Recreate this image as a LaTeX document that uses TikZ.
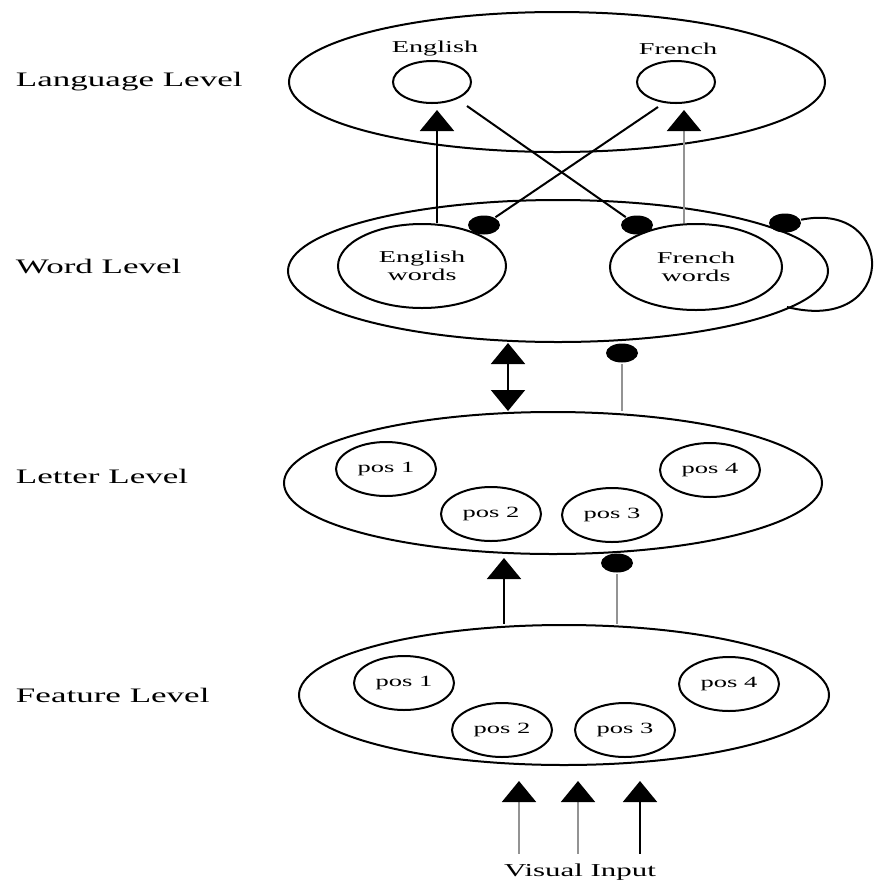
\documentclass[tikz,border=0pt]{standalone}
\usepackage{fontspec}
\setmainfont{Liberation Serif}[FakeStretch=1.7]
\usetikzlibrary{shapes.geometric,arrows.meta}

\begin{document}
\begin{tikzpicture}[x=0.5pt, y=-0.5pt, line width=1pt,
  level/.style={draw, ellipse, inner sep=0pt},
  posbox/.style={draw, ellipse, inner sep=0pt, minimum width=50pt, minimum height=27pt,
    font=\fontsize{7.8}{9}\selectfont},
  dot/.style={fill, ellipse, inner sep=0pt, minimum width=16pt, minimum height=9.5pt},
  levelname/.style={anchor=base west, inner sep=0pt, font=\fontsize{10.3}{12}\selectfont},
  small/.style={inner sep=0pt, font=\fontsize{8.3}{9}\selectfont, align=center},
  excite/.style={-{Triangle[width=17pt, length=10.5pt, color=black]}},
  both/.style={{Triangle[width=17pt, length=10.5pt]}-{Triangle[width=17pt, length=10.5pt]}},
  faint/.style={draw=gray!85}]

  \useasboundingbox (0,0) rectangle (874,885);

  % names of the levels
  \node[levelname] (langname) at (15,86) {Language Level};
  \node[levelname] (wordname) at (15,273) {Word Level};
  \node[levelname] (lettername) at (15,483) {Letter Level};
  \node[levelname] (featname) at (15,702) {Feature Level};

  % language level
  \node[level, minimum width=268pt, minimum height=70pt] (Lang) at (557,82) {};
  \node[level, minimum width=39pt, minimum height=21pt] (Eng) at (432,82) {};
  \node[level, minimum width=39pt, minimum height=21pt] (Fre) at (676,82) {};
  \node[small] (engname) at (435,49) {English};
  \node[small] (frename) at (678,49) {French};

  % word level
  \node[level, minimum width=270pt, minimum height=71pt] (Word) at (558,271) {};
  \node[level, minimum width=84pt, minimum height=42pt, small] (EnW) at (422,266) {English\\words};
  \node[level, minimum width=86pt, minimum height=43pt, small] (FrW) at (696,267) {French\\words};

  % letter level
  \node[level, minimum width=269pt, minimum height=71pt] (Letter) at (553,483) {};
  \node[posbox] (L1) at (386,469) {pos 1};
  \node[posbox] (L2) at (491,514) {pos 2};
  \node[posbox] (L3) at (612,515) {pos 3};
  \node[posbox] (L4) at (710,470) {pos 4};

  % feature level
  \node[level, minimum width=265pt, minimum height=70pt] (Feature) at (564,695) {};
  \node[posbox] (F1) at (404,683) {pos 1};
  \node[posbox] (F2) at (502,730) {pos 2};
  \node[posbox] (F3) at (625,730) {pos 3};
  \node[posbox] (F4) at (729,684) {pos 4};

  \node[inner sep=0pt, anchor=base, font=\fontsize{9.1}{11}\selectfont] (input) at (580,876) {Visual Input};

  % inhibitory dots
  \node[dot] (EnDot) at (484,225) {};
  \node[dot] (FrDot) at (637,225) {};
  \node[dot] (LoopDot) at (785,223) {};
  \node[dot] (WLDot) at (622,353) {};
  \node[dot] (FLDot) at (617,563) {};

  % free ends of the connectors
  \coordinate (engTip) at (437,110);
  \coordinate (freTip) at (684,110);
  \coordinate (engCross) at (467,106);
  \coordinate (freCross) at (658,107);
  \coordinate (loopEnd) at (787,307);
  \coordinate (dbl) at (508,0);
  \coordinate (flTip) at (504,558);

  % word to language
  \draw[excite] (engTip |- EnW.north) -- (engTip);
  \draw[excite, faint] (freTip |- FrW.north) -- (freTip);
  \draw (engCross) -- (FrDot);
  \draw (freCross) -- (EnDot);
  \draw (LoopDot) .. controls (898,200) and (898,335) .. (loopEnd);

  % letter to word
  \draw[both] (Word.south -| dbl) -- (Letter.north -| dbl);
  \draw[faint] (Letter.north -| WLDot) -- (WLDot);

  % feature to letter
  \draw[excite] (Feature.north -| flTip) -- (flTip);
  \draw[faint] (Feature.north -| FLDot) -- (FLDot);

  % visual input
  \draw[excite, faint] ([xshift=-30.5pt, yshift=4.3pt]input.north) -- ([xshift=-22.5pt, yshift=-7.5pt]Feature.south);
  \draw[excite, faint] ([xshift=-1pt, yshift=4.3pt]input.north) -- ([xshift=7pt, yshift=-7.5pt]Feature.south);
  \draw[excite] ([xshift=30pt, yshift=4.3pt]input.north) -- ([xshift=38pt, yshift=-7.5pt]Feature.south);
\end{tikzpicture}
\end{document}
